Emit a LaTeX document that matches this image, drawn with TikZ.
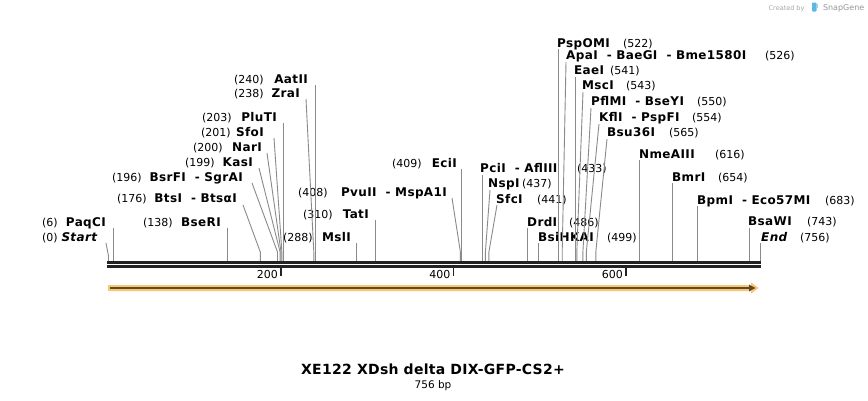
\documentclass[tikz,border=0pt]{standalone}
\usepackage{fontspec}
\setmainfont{DejaVu Sans}
\newfontfamily\labfont[LetterSpace=3]{DejaVu Sans}
\newfontfamily\titfont[LetterSpace=2]{DejaVu Sans}
\definecolor{leadc}{HTML}{8A8A8A}
\definecolor{axisc}{HTML}{222222}
\definecolor{featout}{HTML}{FCC66E}
\definecolor{featin}{HTML}{5A4A32}
\definecolor{sgray}{HTML}{A8A8A8}
\definecolor{sblue}{HTML}{5DB7E6}
\tikzset{
  nametxt/.style={font=\labfont\fontsize{12}{13}\selectfont\bfseries, inner sep=0pt, text=black},
  numtxt/.style={font=\fontsize{11}{12}\selectfont, inner sep=0pt, text=black},
  leader/.style={draw=leadc, line width=0.9pt},
  axisline/.style={draw=axisc, line width=2.7pt},
  tickmark/.style={draw=axisc, line width=1.8pt},
}
% left label: name, centre y, number x (left), number, name x (right), name text
\newcommand\enzL[6]{%
  \node[numtxt, anchor=base west] (#1n) at (#3,{#2+4}) {(#4)};
  \node[nametxt, anchor=base east] (#1) at (#5,{#2+4}) {#6};}
% right label: name, centre y, name x (left), name text, number x (left), number
\newcommand\enzR[6]{%
  \node[nametxt, anchor=base west] (#1) at (#3,{#2+4}) {#4};
  \node[numtxt, anchor=base west] (#1n) at (#5,{#2+4}) {(#6)};}
\begin{document}
\begin{tikzpicture}[x=1pt,y=-1pt]
\useasboundingbox (0,0) rectangle (868,400);
\fill[white] (0,0) rectangle (868,400);

% ---------- left-side labels ----------
\enzL{Start}{237}{42}{0}{98}{\textit{Start}}
\enzL{PaqCI}{222}{42}{6}{106}{PaqCI}
\enzL{BseRI}{222}{143}{138}{221}{BseRI}
\enzL{BtsI}{198}{117}{176}{237}{BtsI~ - BtsαI}
\enzL{BsrFI}{177}{112}{196}{243}{BsrFI~ - SgrAI}
\enzL{KasI}{162}{185}{199}{253}{KasI}
\enzL{NarI}{147}{193}{200}{262}{NarI}
\enzL{SfoI}{132}{201}{201}{264}{SfoI}
\enzL{PluTI}{117}{202}{203}{277}{PluTI}
\enzL{ZraI}{93}{234}{238}{300}{ZraI}
\enzL{AatII}{79}{234}{240}{308}{AatII}
\enzL{MslI}{237}{283}{288}{351}{MslI}
\enzL{TatI}{214}{303}{310}{369}{TatI}
\enzL{PvuII}{192}{298}{408}{447}{PvuII~ - MspA1I}
\enzL{EciI}{163}{392}{409}{457}{EciI}

% ---------- right-side labels ----------
\enzR{PciI}{168}{480}{PciI~ - AflIII}{577}{433}
\enzR{NspI}{183}{488}{NspI}{522}{437}
\enzR{SfcI}{199}{496}{SfcI}{537}{441}
\enzR{DrdI}{222}{527}{DrdI}{569}{486}
\enzR{BsiHKAI}{237}{538}{BsiHKAI}{607}{499}
\enzR{PspOMI}{43}{557}{PspOMI}{623}{522}
\enzR{ApaI}{55}{566}{ApaI~ - BaeGI~ - Bme1580I}{765}{526}
\enzR{EaeI}{70}{574}{EaeI}{610}{541}
\enzR{MscI}{85}{582}{MscI}{626}{543}
\enzR{PflMI}{101}{591}{PflMI~ - BseYI}{697}{550}
\enzR{KflI}{117}{599}{KflI~ - PspFI}{692}{554}
\enzR{Bsu36I}{132}{607}{Bsu36I}{669}{565}
\enzR{NmeAIII}{154}{639}{NmeAIII}{715}{616}
\enzR{BmrI}{177}{672}{BmrI}{718}{654}
\enzR{BpmI}{200}{697}{BpmI~ - Eco57MI}{825}{683}
\enzR{BsaWI}{221}{748}{BsaWI}{807}{743}
\enzR{End}{237}{761}{\textit{End}}{800}{756}

% ---------- leader lines ----------
\draw[leader] (106,243) -- (108.5,256) -- (108.5,261);
\draw[leader] (113.7,228) -- (113.7,261);
\draw[leader] (227.5,228) -- (227.5,261);
\draw[leader] (243,205) -- (260.3,252) -- (260.3,261);
\draw[leader] (252,183) -- (277.5,252) -- (277.5,261);
\draw[leader] (259,168) -- (280.1,252) -- (280.1,261);
\draw[leader] (267,153) -- (281,252) -- (281,261);
\draw[leader] (274,138) -- (281.9,252) -- (281.9,261);
\draw[leader] (283.6,123) -- (283.6,261);
\draw[leader] (306,99) -- (313.8,252) -- (313.8,261);
\draw[leader] (315.5,85) -- (315.5,261);
\draw[leader] (356.9,243) -- (356.9,261);
\draw[leader] (375.9,220) -- (375.9,261);
\draw[leader] (452,198) -- (460.4,252) -- (460.4,261);
\draw[leader] (461.3,169) -- (461.3,261);

\draw[leader] (482,175) -- (482,261);
\draw[leader] (490,190) -- (485.4,252) -- (485.4,261);
\draw[leader] (497,205) -- (488.9,252) -- (488.9,261);
\draw[leader] (527.7,228) -- (527.7,261);
\draw[leader] (538.9,243) -- (538.9,261);
\draw[leader] (558.2,49) -- (558.2,261);
\draw[leader] (566,62) -- (562.2,252) -- (562.2,261);
\draw[leader] (575.1,77) -- (575.1,261);
\draw[leader] (583,92) -- (576.8,252) -- (576.8,261);
\draw[leader] (591,108) -- (582.9,252) -- (582.9,261);
\draw[leader] (599,124) -- (586.3,252) -- (586.3,261);
\draw[leader] (607,139) -- (595.8,252) -- (595.8,261);
\draw[leader] (639.8,160) -- (639.8,261);
\draw[leader] (672.6,183) -- (672.6,261);
\draw[leader] (697.6,206) -- (697.6,261);
\draw[leader] (749.3,228) -- (749.3,261);
\draw[leader] (760.6,243) -- (760.6,261);

% ---------- axis ----------
\coordinate (axL) at (107,262.3);
\coordinate (axR) at (761,262.3);
\draw[axisline] (axL) -- (axR);
\draw[axisline] (107,266.4) -- (761,266.4);
\foreach \p/\x in {200/281,400/453.5,600/626}{
  \draw[tickmark] (\x,267) -- (\x,275.5);
  \node[numtxt, anchor=base east] (t\p) at ({\x-3},278) {\p};
}

% ---------- feature arrow ----------
\fill[featout] (108,285) -- (751,285) -- (751,282.3) -- (758.5,288) -- (751,293.7) -- (751,291) -- (108,291) -- cycle;
\draw[featin, line width=2pt] (109.5,288) -- (750,288);
\fill[featin] (749,284.6) -- (755.5,288) -- (749,291.4) -- cycle;

% ---------- title ----------
\node[font=\titfont\fontsize{14}{15}\selectfont\bfseries, anchor=base] (title) at (433,374) {XE122 XDsh delta DIX-GFP-CS2+};
\node[font=\fontsize{10.5}{12}\selectfont, anchor=base] (bp) at (433,388) {756 bp};

% ---------- credit ----------
\node[font=\fontsize{6.5}{7}\selectfont, text=sgray, anchor=base east] (cr) at (808,10) {Created by};
\fill[sblue, rounded corners=0.8pt] (812,2.5) rectangle (816.5,11.5);
\fill[sblue!60] (816.5,3.5) rectangle (818,8);
\node[font=\fontsize{8}{9}\selectfont, text=sgray!90!black, anchor=base west] (sg) at (819.5,10.5) {SnapGene};
\end{tikzpicture}
\end{document}
